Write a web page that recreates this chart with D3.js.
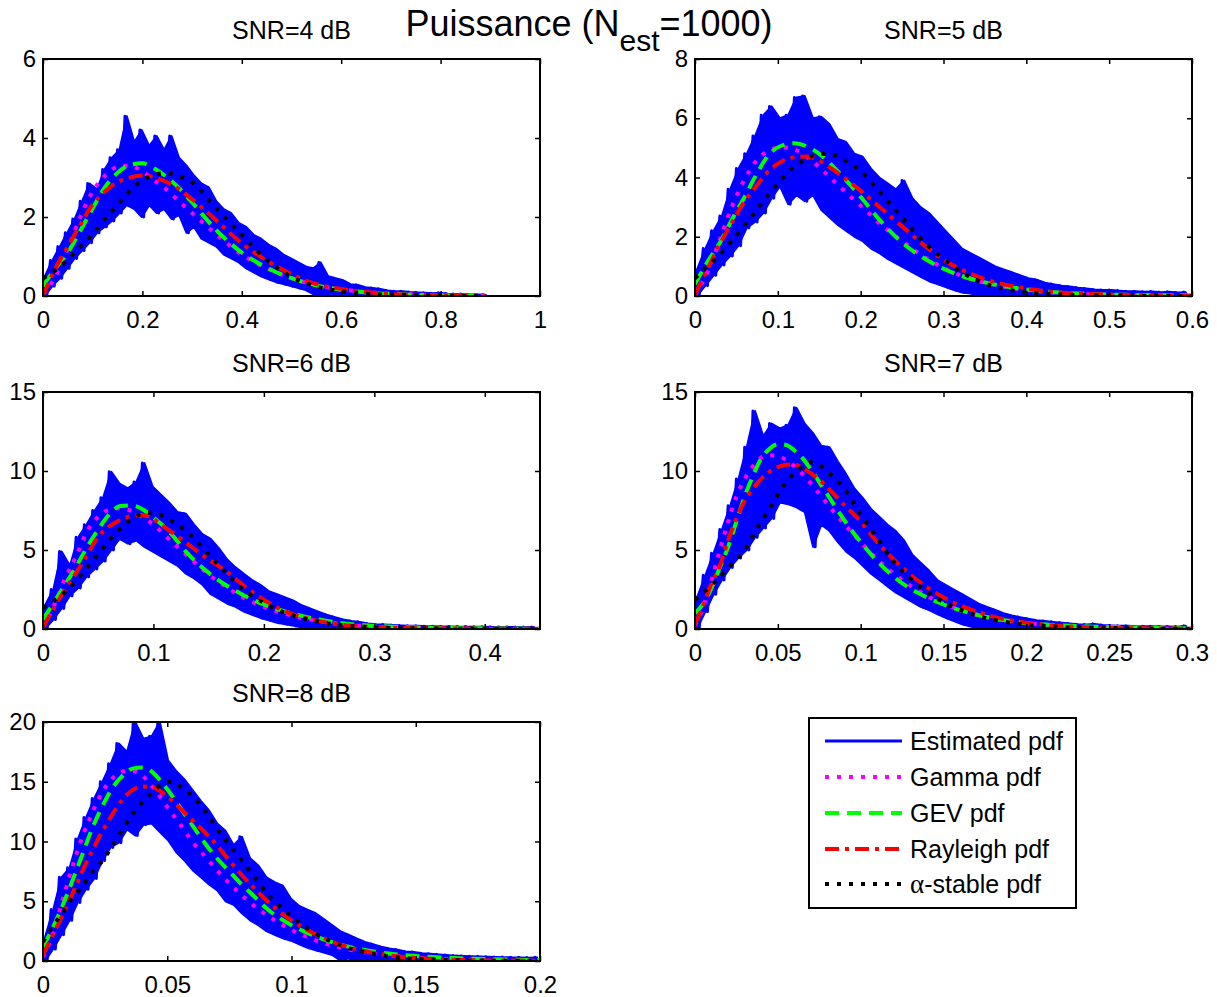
<!DOCTYPE html>
<html><head><meta charset="utf-8">
<script src="https://cdn.jsdelivr.net/npm/d3@7"></script>
<style>
body{margin:0;background:#fff}
svg{display:block}
text{font-family:"Liberation Sans",Arial,Helvetica,sans-serif;fill:#000}
</style>
</head><body>
<svg id="c" width="1217" height="997"></svg>
<script>
// ---------------- DATA ----------------
const mainTitle = "Puissance (N";
const mainSub = "est";
const mainTail = "=1000)";
const panelTitles = ["SNR=4 dB","SNR=5 dB","SNR=6 dB","SNR=7 dB","SNR=8 dB"];
const xMaxes = [1, 0.6, 0.45, 0.3, 0.2];
const yMaxes = [6, 8, 15, 15, 20];
const p1XTicks = [0,0.2,0.4,0.6,0.8,1];
const p2XTicks = [0,0.1,0.2,0.3,0.4,0.5,0.6];
const p3XTicks = [0,0.1,0.2,0.3,0.4];
const p4XTicks = [0,0.05,0.1,0.15,0.2,0.25,0.3];
const p5XTicks = [0,0.05,0.1,0.15,0.2];
const p1YTicks = [0,2,4,6];
const p2YTicks = [0,2,4,6,8];
const p3YTicks = [0,5,10,15];
const p4YTicks = [0,5,10,15];
const p5YTicks = [0,5,10,15,20];
const legendLabels = ["Estimated pdf","Gamma pdf","GEV pdf","Rayleigh pdf","-stable pdf"];

// Estimated pdf (noisy): alternating upper / lower readings, half a step apart
const p1EstStep = 0.015;
const p1EstHi = [0.5,0.9,1.25,1.6,1.95,2.4,2.85,2.7,3.2,3.5,3.7,4.55,3.9,4.2,3.8,4.05,3.7,4.05,3.5,3.3,3.05,2.85,2.75,2.4,2.2,2.1,1.85,1.75,1.55,1.45,1.3,1.2,1.05,0.95,0.85,0.75,0.7,0.85,0.5,0.45,0.4,0.3,0.28,0.22,0.2,0.18,0.14,0.12,0.12,0.1,0.09,0.08,0.07,0.08,0.06,0.05,0.05,0.04,0.04,0.03];
const p1EstLo = [0,0.25,0.45,0.7,0.95,1.15,1.35,1.6,1.75,1.9,2.1,2.3,2.2,2.0,2.3,2.1,2.2,1.95,2.05,1.6,1.75,1.45,1.35,1.25,1.05,0.95,0.85,0.7,0.6,0.5,0.42,0.35,0.3,0.25,0.2,0.15,0.05,0.02,0.02,0,0.02,0,0,0,0,0,0,0,0,0,0,0,0,0,0,0,0,0,0,0];
const p2EstStep = 0.01;
const p2EstHi = [0.9,1.6,2.2,2.7,3.6,4.3,4.8,5.4,6.1,6.4,6.0,6.1,6.7,6.75,6.0,6.05,5.8,5.3,5.2,4.8,4.7,4.3,4.0,3.8,3.6,3.9,3.3,3.0,2.8,2.5,2.2,1.9,1.6,1.45,1.3,1.15,1.0,0.9,0.8,0.7,0.6,0.55,0.45,0.4,0.35,0.32,0.28,0.25,0.22,0.2,0.2,0.18,0.16,0.16,0.14,0.15,0.13,0.14,0.12,0.13];
const p2EstLo = [0,0.35,0.7,1.05,1.35,1.7,2.3,2.5,2.8,3.3,3.7,3.1,3.4,3.2,3.4,2.9,2.65,2.4,2.2,2.0,1.85,1.6,1.45,1.25,1.1,0.95,0.8,0.65,0.5,0.4,0.3,0.2,0.12,0.08,0.05,0.03,0,0,0,0,0,0,0,0,0,0,0,0,0,0,0,0,0,0,0,0,0,0,0,0];
const p3EstStep = 0.0075;
const p3EstHi = [1.5,2.5,4.9,4.0,5.8,6.6,7.5,8.3,9.95,9.2,8.9,9.3,10.5,9.0,8.5,8.0,7.4,7.3,6.6,6.0,5.7,5.1,4.4,3.9,3.5,3.1,2.8,2.4,2.2,2.0,1.8,1.5,1.3,1.1,0.9,0.75,0.6,0.5,0.45,0.35,0.3,0.28,0.25,0.22,0.2,0.2,0.18,0.17,0.16,0.16,0.15,0.15,0.14,0.14,0.13,0.13,0.13,0.12,0.12,0.12];
const p3EstLo = [0,0.6,1.3,2.1,2.6,3.3,3.8,4.3,5.0,5.7,5.4,5.6,5.2,4.9,4.6,4.3,4.0,3.5,3.2,2.8,2.2,1.9,1.6,1.4,1.1,0.9,0.7,0.55,0.4,0.3,0.2,0.1,0.05,0,0,0,0,0,0,0,0,0,0,0,0,0,0,0,0,0,0,0,0,0,0,0,0,0,0,0];
const p4EstStep = 0.005;
const p4EstHi = [2.0,3.4,4.8,6.3,7.8,9.5,11.5,13.8,12.2,13.0,12.7,12.9,14.0,13.0,12.4,11.6,11.5,10.6,9.8,8.9,8.3,7.6,7.1,6.6,6.2,5.6,4.7,4.2,3.7,3.1,2.8,2.5,2.2,1.9,1.6,1.4,1.2,1.0,0.85,0.75,0.65,0.55,0.5,0.45,0.4,0.35,0.3,0.28,0.32,0.25,0.22,0.2,0.2,0.18,0.18,0.17,0.16,0.16,0.15,0.2];
const p4EstLo = [0,1.1,2.2,3.1,3.9,4.5,5.0,5.8,6.4,7.0,8.0,7.9,7.7,7.4,5.2,6.6,6.2,5.5,4.9,4.5,4.0,3.5,3.1,2.7,2.3,2.0,1.7,1.4,1.2,0.95,0.7,0.5,0.3,0.15,0.05,0,0,0,0,0,0,0,0,0,0,0,0,0,0,0,0,0,0,0,0,0,0,0,0,0];
const p5EstStep = 0.0033;
const p5EstHi = [2.0,4.3,7.0,7.8,10.2,12.0,13.6,15.0,16.5,18.2,17.5,20.0,18.6,18.8,20.0,16.8,15.9,15.2,14.3,13.4,12.6,11.5,10.9,9.7,10.4,8.6,8.0,7.0,6.6,6.3,5.2,4.6,4.3,4.0,3.5,3.0,2.5,2.2,1.9,1.6,1.4,1.2,1.05,0.95,0.8,0.75,0.65,0.6,0.55,0.5,0.45,0.42,0.4,0.38,0.35,0.33,0.32,0.3,0.3,0.28,0.3];
const p5EstLo = [0,1.0,2.2,3.4,4.9,6.0,6.9,8.4,9.5,9.9,11.0,10.5,11.4,11.5,10.8,10.1,9.1,8.4,7.6,7.0,6.4,5.9,5.0,4.7,4.0,3.4,3.0,2.5,2.2,1.9,1.7,1.4,1.1,0.9,0.7,0.5,0.05,0.2,0,0,0,0,0,0,0,0,0,0,0,0,0,0,0,0,0,0,0,0,0,0,0];

// Fitted pdfs, read at the x positions of each panel's grid
const p1Grid = [0,0.025,0.05,0.075,0.1,0.125,0.15,0.175,0.2,0.225,0.25,0.275,0.3,0.35,0.4,0.45,0.5,0.55,0.6,0.65,0.7,0.75,0.8,0.85,0.89];
const p1Gamma = [0.05,0.5,1.2,2.0,2.65,3.05,3.27,3.3,3.15,2.92,2.68,2.38,2.1,1.55,1.05,0.7,0.45,0.28,0.17,0.1,0.06,0.04,0.02,0.01,0.01];
const p1GEV = [0.25,0.7,1.1,1.65,2.22,2.76,3.12,3.32,3.36,3.22,3.0,2.72,2.37,1.65,1.1,0.72,0.45,0.27,0.16,0.09,0.05,0.03,0.02,0.01,0.01];
const p1Rayleigh = [0,0.7,1.25,1.8,2.32,2.65,2.88,3.0,3.05,3.0,2.88,2.7,2.45,1.9,1.33,0.9,0.55,0.3,0.18,0.1,0.05,0.03,0.02,0.01,0];
const p1Alpha = [0.45,0.65,0.92,1.24,1.56,1.95,2.3,2.67,2.93,3.07,3.11,3.03,2.88,2.2,1.55,0.92,0.48,0.24,0.12,0.06,0.03,0.02,0.01,0,0];

const p2Grid = [0,0.015,0.03,0.045,0.06,0.075,0.09,0.105,0.12,0.135,0.15,0.165,0.18,0.2,0.225,0.25,0.275,0.3,0.325,0.35,0.4,0.45,0.5,0.55,0.6];
const p2Gamma = [0.03,0.8,1.9,3.05,3.95,4.6,4.92,5.02,4.95,4.7,4.35,3.95,3.55,3.05,2.4,1.85,1.35,0.95,0.65,0.45,0.2,0.09,0.04,0.02,0.01];
const p2GEV = [0.4,1.15,1.8,2.6,3.35,4.15,4.8,5.08,5.16,5.05,4.8,4.42,3.98,3.34,2.5,1.8,1.3,0.92,0.65,0.46,0.22,0.1,0.05,0.03,0.02];
const p2Rayleigh = [0.05,0.9,1.75,2.5,3.2,3.75,4.25,4.55,4.68,4.71,4.57,4.3,4.0,3.55,2.95,2.35,1.75,1.22,0.85,0.57,0.25,0.1,0.05,0.02,0.01];
const p2Alpha = [0.6,1.0,1.4,1.88,2.38,2.92,3.45,3.95,4.38,4.62,4.8,4.78,4.6,4.22,3.45,2.65,1.86,1.25,0.75,0.42,0.12,0.04,0.02,0.01,0];

const p3Grid = [0,0.01,0.02,0.03,0.04,0.05,0.06,0.07,0.08,0.09,0.1,0.11,0.12,0.13,0.14,0.15,0.165,0.18,0.2,0.22,0.25,0.28,0.3,0.35,0.4,0.45];
const p3Gamma = [0.1,1.5,3.2,4.6,6.2,7.1,7.55,7.65,7.47,7.1,6.6,5.95,5.3,4.68,4.05,3.45,2.7,2.05,1.4,0.95,0.5,0.25,0.15,0.05,0.02,0.01];
const p3GEV = [0.6,1.7,2.8,3.95,5.2,6.3,7.25,7.78,7.82,7.58,7.05,6.45,5.7,4.85,4.15,3.55,2.8,2.2,1.55,1.1,0.6,0.3,0.2,0.08,0.04,0.02];
const p3Rayleigh = [0.1,1.35,2.5,3.55,4.7,5.85,6.5,6.9,7.15,7.22,6.95,6.45,5.95,5.45,4.9,4.4,3.7,2.85,1.85,1.1,0.5,0.2,0.12,0.04,0.02,0.01];
const p3Alpha = [1.35,1.78,2.33,3.05,3.9,4.75,5.6,6.35,6.95,7.3,7.38,7.1,6.7,6.16,5.5,4.72,3.6,2.58,1.65,1.0,0.45,0.18,0.1,0.03,0.01,0];

const p4Grid = [0,0.005,0.01,0.015,0.02,0.025,0.03,0.035,0.04,0.045,0.05,0.055,0.06,0.065,0.07,0.075,0.08,0.09,0.1,0.11,0.12,0.13,0.14,0.15,0.17,0.19,0.21,0.24,0.27,0.3];
const p4Gamma = [0.2,1.4,3.1,5.0,6.8,8.4,9.5,10.3,10.85,11.0,10.95,10.7,10.3,9.8,9.2,8.55,7.9,6.65,5.5,4.4,3.5,2.75,2.1,1.6,0.9,0.5,0.27,0.12,0.05,0.02];
const p4GEV = [1.0,1.6,2.6,3.9,5.2,6.8,8.4,9.7,10.8,11.4,11.7,11.65,11.3,10.8,10.1,9.3,8.5,6.9,5.5,4.3,3.3,2.55,2.0,1.55,0.9,0.5,0.3,0.15,0.08,0.05];
const p4Rayleigh = [0.3,1.5,2.9,4.0,5.6,7.0,8.1,8.9,9.5,9.95,10.25,10.4,10.42,10.2,9.85,9.45,8.95,7.85,6.8,5.5,4.4,3.45,2.65,2.0,1.1,0.55,0.28,0.1,0.04,0.02];
const p4Alpha = [1.85,2.3,2.8,3.3,3.85,4.4,5.0,5.9,6.8,7.62,8.5,9.3,9.85,10.3,10.55,10.4,9.95,8.9,7.25,5.75,4.25,3.2,2.35,1.7,0.85,0.4,0.2,0.08,0.03,0.01];

const p5Grid = [0,0.004,0.008,0.012,0.016,0.02,0.024,0.028,0.032,0.036,0.04,0.044,0.048,0.052,0.056,0.06,0.065,0.07,0.075,0.08,0.085,0.09,0.1,0.11,0.12,0.13,0.14,0.16,0.18,0.2];
const p5Gamma = [0.3,2.3,5.2,8.0,10.5,12.5,14.2,15.3,15.85,15.9,15.5,14.6,13.5,12.3,11.2,10.0,8.8,7.6,6.5,5.5,4.6,3.85,2.6,1.7,1.1,0.7,0.45,0.18,0.07,0.03];
const p5GEV = [1.2,2.8,4.7,6.8,9.0,11.2,13.0,14.5,15.5,16.1,16.2,15.8,14.9,13.8,12.6,11.4,9.9,8.6,7.5,6.4,5.4,4.4,3.0,2.05,1.35,0.9,0.6,0.3,0.15,0.08];
const p5Rayleigh = [0.5,2.2,3.9,5.7,7.6,9.3,10.9,12.3,13.5,14.3,14.6,14.55,14.1,13.4,12.6,11.8,10.8,9.7,8.4,7.2,6.1,5.05,3.4,2.2,1.35,0.8,0.45,0.15,0.05,0.02];
const p5Alpha = [1.6,2.9,4.1,5.3,6.3,7.5,8.4,9.7,11.0,12.3,13.3,14.1,14.8,15.0,14.5,13.8,12.6,11.1,9.7,8.4,7.05,5.7,3.75,2.25,1.3,0.7,0.35,0.1,0.03,0.01];

// ---------------- LAYOUT / STYLE ----------------
const svg = d3.select("#c");
const rects = [
  {l:43, r:540, t:59, b:296},
  {l:695, r:1192, t:59, b:296},
  {l:43, r:540, t:392, b:629},
  {l:695, r:1192, t:392, b:629},
  {l:43, r:540, t:722, b:961}
];
const styles = {
  est:   {stroke:"#0000ff", w:3,   dash:null},
  gamma: {stroke:"#ff00ff", w:4, dash:"4,8"},
  gev:   {stroke:"#00ff00", w:4, dash:"14,8"},
  ray:   {stroke:"#ff0000", w:4, dash:"14,6,4,6"},
  alpha: {stroke:"#000000", w:4, dash:"4,8"}
};
const panels = [
  {xT:p1XTicks,yT:p1YTicks,grid:p1Grid,gamma:p1Gamma,gev:p1GEV,ray:p1Rayleigh,alpha:p1Alpha,hi:p1EstHi,lo:p1EstLo,step:p1EstStep},
  {xT:p2XTicks,yT:p2YTicks,grid:p2Grid,gamma:p2Gamma,gev:p2GEV,ray:p2Rayleigh,alpha:p2Alpha,hi:p2EstHi,lo:p2EstLo,step:p2EstStep},
  {xT:p3XTicks,yT:p3YTicks,grid:p3Grid,gamma:p3Gamma,gev:p3GEV,ray:p3Rayleigh,alpha:p3Alpha,hi:p3EstHi,lo:p3EstLo,step:p3EstStep},
  {xT:p4XTicks,yT:p4YTicks,grid:p4Grid,gamma:p4Gamma,gev:p4GEV,ray:p4Rayleigh,alpha:p4Alpha,hi:p4EstHi,lo:p4EstLo,step:p4EstStep},
  {xT:p5XTicks,yT:p5YTicks,grid:p5Grid,gamma:p5Gamma,gev:p5GEV,ray:p5Rayleigh,alpha:p5Alpha,hi:p5EstHi,lo:p5EstLo,step:p5EstStep}
];
const fmt = d => String(+d.toFixed(6));
const TICK_FS = 24, TITLE_FS = 25;

function styleLine(sel, st){
  sel.attr("fill","none").attr("stroke",st.stroke).attr("stroke-width",st.w)
     .attr("stroke-linejoin","round");
  if(st.dash) sel.attr("stroke-dasharray",st.dash).attr("stroke-linecap","butt");
  return sel;
}

panels.forEach((p,i)=>{
  const R = rects[i];
  const x = d3.scaleLinear().domain([0,xMaxes[i]]).range([R.l,R.r]);
  const y = d3.scaleLinear().domain([0,yMaxes[i]]).range([R.b,R.t]);
  const g = svg.append("g");
  const cid = "clip"+i;
  svg.append("clipPath").attr("id",cid).append("rect")
     .attr("x",R.l).attr("y",R.t).attr("width",R.r-R.l).attr("height",R.b-R.t);
  const plot = g.append("g").attr("clip-path",`url(#${cid})`);

  // estimated pdf (noisy): dense band + zig-zag trace through the readings
  const n = Math.min(p.hi.length,p.lo.length);
  const band = d3.range(n).map(k=>({x:k*p.step + p.step/4, lo:p.lo[k], hi:p.hi[k]}));
  const area = d3.area().x(d=>x(d.x)).y0(d=>y(d.lo)).y1(d=>y(d.hi));
  plot.append("path").attr("d",area(band)).attr("fill","#0000ff").attr("stroke","#0000ff").attr("stroke-width",2).attr("stroke-linejoin","round");
  const estPts = [];
  for(let k=0;k<n;k++){
    estPts.push([k*p.step, p.hi[k]]);
    estPts.push([k*p.step + p.step/2, p.lo[k]]);
  }
  const lineRaw = d3.line().x(d=>x(d[0])).y(d=>y(d[1]));
  styleLine(plot.append("path").attr("d",lineRaw(estPts)), styles.est);

  const lineSmooth = d3.line().x(d=>x(d[0])).y(d=>y(d[1])).curve(d3.curveMonotoneX);
  [["gamma",p.gamma],["gev",p.gev],["ray",p.ray],["alpha",p.alpha]].forEach(([key,vals])=>{
    const pts = p.grid.map((gx,k)=>[gx,vals[k]]);
    styleLine(plot.append("path").attr("d",lineSmooth(pts)), styles[key]);
  });

  // axes (inward ticks on all sides)
  const axB = g.append("g").attr("transform",`translate(0,${R.b})`)
    .call(d3.axisBottom(x).tickValues(p.xT).tickFormat(fmt).tickSize(-5).tickPadding(15));
  const axT = g.append("g").attr("transform",`translate(0,${R.t})`)
    .call(d3.axisTop(x).tickValues(p.xT).tickFormat("").tickSize(-5));
  const axL = g.append("g").attr("transform",`translate(${R.l},0)`)
    .call(d3.axisLeft(y).tickValues(p.yT).tickFormat(fmt).tickSize(-5).tickPadding(7));
  const axR = g.append("g").attr("transform",`translate(${R.r},0)`)
    .call(d3.axisRight(y).tickValues(p.yT).tickFormat("").tickSize(-5));
  [axB,axT,axL,axR].forEach(a=>{
    a.select(".domain").remove();
    a.selectAll(".tick line").attr("stroke","#000").attr("stroke-width",1.5);
    a.selectAll("text").attr("font-size",TICK_FS).attr("font-family","Liberation Sans, Arial, sans-serif").attr("fill","#000");
  });
  g.append("rect").attr("x",R.l).attr("y",R.t).attr("width",R.r-R.l).attr("height",R.b-R.t)
    .attr("fill","none").attr("stroke","#000").attr("stroke-width",2);

  g.append("text").attr("x",(R.l+R.r)/2).attr("y",R.t-20).attr("text-anchor","middle")
    .attr("font-size",TITLE_FS).text(panelTitles[i]);
});

// main title
const mt = svg.append("text").attr("x",589).attr("y",36).attr("text-anchor","middle").attr("font-size",36);
mt.append("tspan").text(mainTitle);
mt.append("tspan").attr("dy",15).attr("font-size",30).text(mainSub);
mt.append("tspan").attr("dy",-15).text(mainTail);

// legend
const L = {l:809, r:1076, t:718, b:908};
const lg = svg.append("g");
lg.append("rect").attr("x",L.l).attr("y",L.t).attr("width",L.r-L.l).attr("height",L.b-L.t)
  .attr("fill","#fff").attr("stroke","#000").attr("stroke-width",2);
const legKeys = ["est","gamma","gev","ray","alpha"];
const legY = [741,777,813,849,884];
legKeys.forEach((k,j)=>{
  const st = styles[k];
  styleLine(lg.append("path").attr("d",d3.line()([[825,legY[j]],[902,legY[j]]])), st);
  const t = lg.append("text").attr("x",910).attr("y",legY[j]).attr("dy","0.35em").attr("font-size",25);
  if(k==="alpha"){
    t.append("tspan").attr("font-family","Liberation Serif, Times New Roman, serif").attr("font-size",27).text("α");
    t.append("tspan").text(legendLabels[j]);
  } else t.text(legendLabels[j]);
});
</script>
</body></html>
